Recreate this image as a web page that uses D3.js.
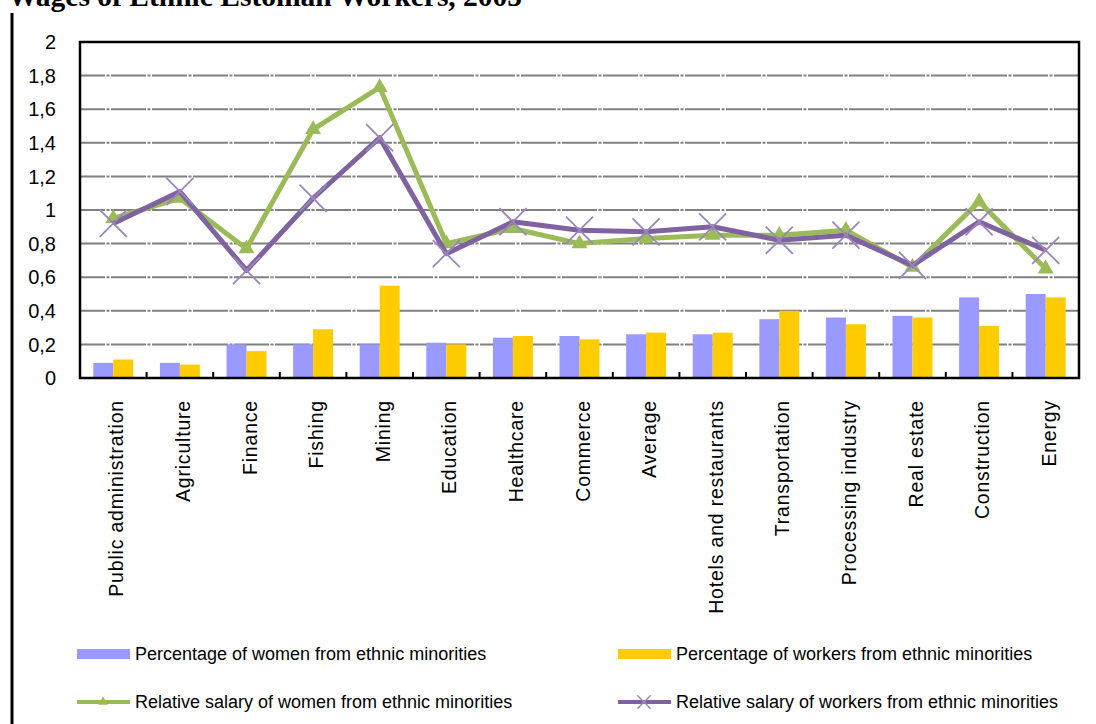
<!DOCTYPE html>
<html>
<head>
<meta charset="utf-8">
<script src="https://cdn.jsdelivr.net/npm/d3@7"></script>
<style>
  html, body { margin: 0; padding: 0; background: #fff; }
  svg { display: block; }
  text { font-family: "Liberation Sans", Arial, sans-serif; fill: #000; }
</style>
</head>
<body>
<svg id="chart" width="1096" height="724"></svg>
<script>
// Sectors, ordered as on the axis
const categories = [
  "Public administration", "Agriculture", "Finance", "Fishing", "Mining",
  "Education", "Healthcare", "Commerce", "Average", "Hotels and restaurants",
  "Transportation", "Processing industry", "Real estate", "Construction", "Energy"
];
// Share of women / workers from ethnic minorities (bars)
const womenShare   = [0.09, 0.09, 0.20, 0.20, 0.20, 0.21, 0.24, 0.25, 0.26, 0.26, 0.35, 0.36, 0.37, 0.48, 0.50];
const workersShare = [0.11, 0.08, 0.16, 0.29, 0.55, 0.20, 0.25, 0.23, 0.27, 0.27, 0.40, 0.32, 0.36, 0.31, 0.48];
// Relative salary of women / workers from ethnic minorities (lines)
const womenSalary   = [0.95, 1.07, 0.77, 1.48, 1.73, 0.80, 0.89, 0.80, 0.83, 0.85, 0.85, 0.88, 0.66, 1.05, 0.65];
const workersSalary = [0.92, 1.11, 0.64, 1.07, 1.43, 0.74, 0.93, 0.88, 0.87, 0.90, 0.82, 0.85, 0.67, 0.93, 0.76];
// Value axis ticks
const yTicks = [0, 0.2, 0.4, 0.6, 0.8, 1, 1.2, 1.4, 1.6, 1.8, 2];

const legendItems = [
  { label: "Percentage of women from ethnic minorities", kind: "bar", color: "#9999FF" },
  { label: "Percentage of workers from ethnic minorities", kind: "bar", color: "#FFCC00" },
  { label: "Relative salary of women from ethnic minorities", kind: "tri", color: "#9BBB59" },
  { label: "Relative salary of workers from ethnic minorities", kind: "x", color: "#7F63A1" }
];

const svg = d3.select("#chart");
const plot = { left: 80, right: 1079, top: 42, bottom: 378 };

const x = d3.scaleBand().domain(categories).range([plot.left, plot.right])
  .paddingInner(0.4).paddingOuter(0.2);
const xSub = d3.scaleBand().domain(["women", "workers"]).range([0, x.bandwidth()]);
const y = d3.scaleLinear().domain([0, 2]).range([plot.bottom, plot.top]);
const cx = c => x(c) + x.bandwidth() / 2;
const fmt = v => String(+v.toFixed(1)).replace(".", ",");

// Title (runs off the top edge)
svg.append("text")
  .attr("x", 8).attr("y", 6)
  .style("font-family", "'Liberation Serif', 'Times New Roman', serif")
  .style("font-weight", "bold").style("font-size", "29.5px")
  .text("Wages of Ethnic Estonian Workers, 2005");

// Left rule
svg.append("line")
  .attr("x1", 12).attr("x2", 12).attr("y1", 13).attr("y2", 724)
  .attr("stroke", "#000").attr("stroke-width", 3);

// Gridlines
svg.append("g").selectAll("line")
  .data(yTicks.filter(t => t > 0 && t < 2))
  .join("line")
  .attr("x1", plot.left).attr("x2", plot.right)
  .attr("y1", d => y(d)).attr("y2", d => y(d))
  .attr("stroke", "#808080").attr("stroke-width", 2)
  .attr("stroke-dasharray", "35,1.5,3,1.5")
  .attr("stroke-dashoffset", 10);

// Bars
const barG = svg.append("g");
barG.selectAll("rect.w").data(categories).join("rect")
  .attr("x", d => x(d) + xSub("women")).attr("width", xSub.bandwidth())
  .attr("y", (d, i) => y(womenShare[i])).attr("height", (d, i) => y(0) - y(womenShare[i]))
  .attr("fill", "#9999FF");
barG.selectAll("rect.k").data(categories).join("rect")
  .attr("x", d => x(d) + xSub("workers")).attr("width", xSub.bandwidth())
  .attr("y", (d, i) => y(workersShare[i])).attr("height", (d, i) => y(0) - y(workersShare[i]))
  .attr("fill", "#FFCC00");

// Plot frame
svg.append("rect")
  .attr("x", plot.left).attr("y", plot.top)
  .attr("width", plot.right - plot.left).attr("height", plot.bottom - plot.top)
  .attr("fill", "none").attr("stroke", "#000").attr("stroke-width", 2.5);

// Category separators on the bottom axis
const step = x.step();
svg.append("g").selectAll("line")
  .data(d3.range(1, categories.length))
  .join("line")
  .attr("x1", i => plot.left + i * step).attr("x2", i => plot.left + i * step)
  .attr("y1", plot.bottom).attr("y2", plot.bottom - 6)
  .attr("stroke", "#000").attr("stroke-width", 2);

// Y axis labels
svg.append("g").selectAll("text")
  .data(yTicks).join("text")
  .attr("x", 56).attr("y", d => y(d)).attr("dy", "0.36em")
  .attr("text-anchor", "end").style("font-size", "20px")
  .text(fmt);

// X axis labels (vertical)
svg.append("g").selectAll("text")
  .data(categories).join("text")
  .attr("transform", d => `translate(${cx(d) + 3},400) rotate(-90)`)
  .attr("dy", "0.36em").attr("text-anchor", "end")
  .style("font-size", "19.5px").style("letter-spacing", "0.8px")
  .text(d => d);

// Lines
const line = d3.line().x((d, i) => cx(categories[i])).y(d => y(d));
svg.append("path").datum(womenSalary)
  .attr("d", line).attr("fill", "none")
  .attr("stroke", "#9BBB59").attr("stroke-width", 5).attr("stroke-linejoin", "round");
svg.append("g").selectAll("path").data(womenSalary).join("path")
  .attr("transform", (d, i) => `translate(${cx(categories[i])},${y(d)})`)
  .attr("d", d3.symbol(d3.symbolTriangle, 110))
  .attr("fill", "#9BBB59");

svg.append("path").datum(workersSalary)
  .attr("d", line).attr("fill", "none")
  .attr("stroke", "#7F63A1").attr("stroke-width", 5).attr("stroke-linejoin", "round");
svg.append("g").selectAll("path").data(workersSalary).join("path")
  .attr("transform", (d, i) => `translate(${cx(categories[i])},${y(d)})`)
  .attr("d", d3.symbol(d3.symbolTimes, 480))
  .attr("fill", "none").attr("stroke", "#9A86BC").attr("stroke-width", 1.8);

// Legend
const legendPos = [
  { x: 77, y: 654 }, { x: 618, y: 654 },
  { x: 77, y: 702 }, { x: 618, y: 702 }
];
const lg = svg.append("g").selectAll("g").data(legendItems).join("g")
  .attr("transform", (d, i) => `translate(${legendPos[i].x},${legendPos[i].y})`);
lg.filter(d => d.kind === "bar").append("rect")
  .attr("x", 0).attr("y", -5).attr("width", 53).attr("height", 10)
  .attr("fill", d => d.color);
lg.filter(d => d.kind !== "bar").append("line")
  .attr("x1", 0).attr("x2", 53).attr("y1", 0).attr("y2", 0)
  .attr("stroke", d => d.color).attr("stroke-width", 4);
lg.filter(d => d.kind === "tri").append("path")
  .attr("transform", "translate(26,0)")
  .attr("d", d3.symbol(d3.symbolTriangle, 40))
  .attr("fill", d => d.color);
lg.filter(d => d.kind === "x").append("path")
  .attr("transform", "translate(26,0)")
  .attr("d", d3.symbol(d3.symbolTimes, 120))
  .attr("fill", "none").attr("stroke", "#9A86BC").attr("stroke-width", 1.4);
lg.append("text")
  .attr("x", 58).attr("y", 0).attr("dy", "0.36em")
  .style("font-size", "18px")
  .text(d => d.label);
</script>
</body>
</html>
